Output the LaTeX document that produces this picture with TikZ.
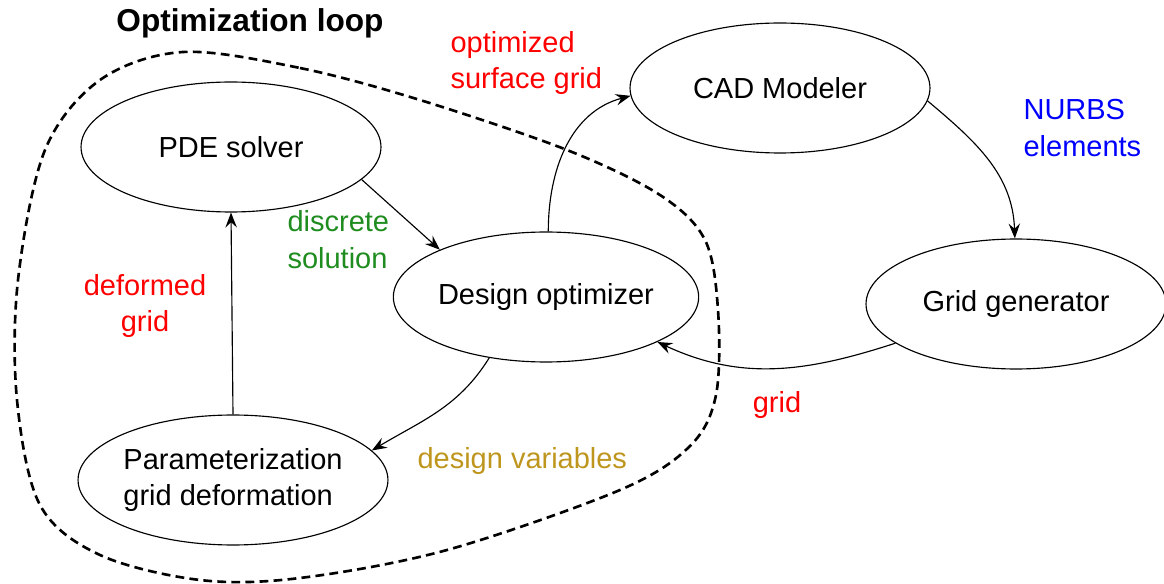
\documentclass[tikz,border=0pt]{standalone}
\usepackage{fontspec}
\setmainfont{Liberation Sans}
\usetikzlibrary{shapes.geometric, arrows.meta}
\definecolor{lblred}{RGB}{255,0,0}
\definecolor{lblgreen}{RGB}{30,140,30}
\definecolor{lblblue}{RGB}{0,0,255}
\definecolor{lblgold}{RGB}{190,150,30}

\begin{document}
\begin{tikzpicture}[x=0.02cm, y=0.02cm, line width=0.65pt,
    >={Stealth[length=8.5pt, width=6.5pt, inset=3pt]},
    every node/.style={font=\fontsize{16.5}{21}\selectfont},
    box/.style={draw, ellipse, minimum width=6cm, minimum height=2.6cm, inner sep=0pt},
    lbl/.style={inner sep=0pt, align=left}]
  \useasboundingbox (0,0) rectangle (1164,-584);

  \node [font=\fontsize{18}{22}\selectfont\bfseries, anchor=base] (title) at (250,-32) {Optimization loop};

  \node [box] (pde) at (231,-147) {PDE solver};
  \node [box] (cad) at (780,-88) {CAD Modeler};
  \node [box] (opt) at (546,-297) {Design optimizer};
  \node [box] (gen) at (1016,-304) {Grid generator};
  \node [box, align=left] (par) at (233,-480) {Parameterization\\grid deformation};

  \draw [line width=1.5pt, dash pattern=on 5pt off 3pt] plot [smooth cycle, tension=0.55] coordinates
    {(183,-52) (300,-68) (420,-100) (567,-150) (660,-195) (705,-240) (718,-310) (716,-395) (690,-446)
     (620,-490) (447,-550) (300,-578) (200,-580) (100,-555) (40,-505) (17,-400) (18,-280) (45,-150) (100,-80)};

  \draw [->] (par.north) -- (pde.south);
  \draw [->] (pde.-14) -- (opt.156);
  \draw [->] (opt.88) to [out=90, in=195] (cad.183);
  \draw [->] (cad.-5) to [out=-40, in=92] (gen.91);
  \draw [->] (gen.198) to [out=198, in=-25] (opt.-22);
  \draw [->] (opt.227) to [out=238, in=31] (par.12);

  \node [lbl, anchor=west, text=lblred] (surf) at (450,-63) {optimized\\surface grid};
  \node [lbl, anchor=west, text=lblblue] (nurbs) at (1023,-128) {NURBS\\elements};
  \node [lbl, anchor=west, text=lblgreen] (disc) at (287,-240) {discrete\\solution};
  \node [lbl, align=center, text=lblred] (defo) at (145,-306) {deformed\\grid};
  \node [lbl, anchor=base, text=lblred] (grid) at (777,-413) {grid};
  \node [lbl, anchor=base west, text=lblgold] (vars) at (417,-468) {design variables};
\end{tikzpicture}
\end{document}
